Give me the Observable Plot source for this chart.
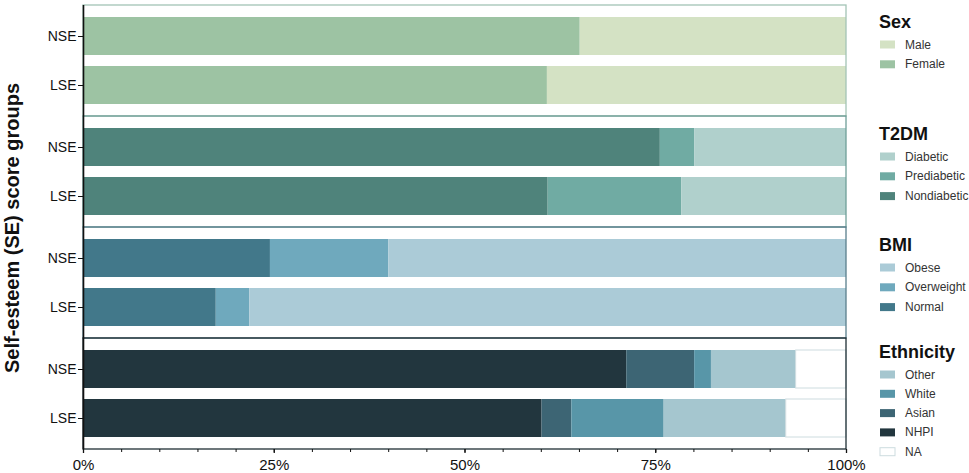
<!DOCTYPE html>
<html>
<head>
<meta charset="utf-8">
<script src="https://cdn.jsdelivr.net/npm/d3@7"></script>
<script src="https://cdn.jsdelivr.net/npm/@observablehq/plot@0.6"></script>
<style>
  html, body { margin: 0; padding: 0; background: #fff; }
  #chart { position: relative; width: 969px; height: 473px; }
</style>
</head>
<body>
<div id="chart"></div>
<script>
// ---- data ----
const groups = ["Sex", "T2DM", "BMI", "Ethnicity"];
const seGroups = ["NSE", "LSE"];

const sexCats = ["Female", "Male"];
const sexNSE = [65.1, 34.9];
const sexLSE = [60.8, 39.2];
const sexColors = ["#9dc3a3", "#d4e2c4"];

const t2dmCats = ["Nondiabetic", "Prediabetic", "Diabetic"];
const t2dmNSE = [75.6, 4.5, 19.9];
const t2dmLSE = [60.9, 17.5, 21.6];
const t2dmColors = ["#4f837b", "#70aba3", "#b0d0cc"];

const bmiCats = ["Normal", "Overweight", "Obese"];
const bmiNSE = [24.5, 15.5, 60.0];
const bmiLSE = [17.4, 4.4, 78.2];
const bmiColors = ["#42788a", "#6fa9bd", "#abcbd7"];

const ethCats = ["NHPI", "Asian", "White", "Other", "NA"];
const ethNSE = [71.2, 8.9, 2.2, 11.1, 6.6];
const ethLSE = [60.1, 3.9, 12.1, 16.0, 7.9];
const ethColors = ["#22363e", "#3d6574", "#5896a8", "#a5c6cf", "#ffffff"];

const legendOrders = [
  ["Male", "Female"],
  ["Diabetic", "Prediabetic", "Nondiabetic"],
  ["Obese", "Overweight", "Normal"],
  ["Other", "White", "Asian", "NHPI", "NA"]
];

const frameColors = ["#a3c4b6", "#6f9e98", "#5a7f8d", "#1f2f35"];
const xTicks = [0, 25, 50, 75, 100];

// ---- build table ----
const spec = [
  {group: "Sex", cats: sexCats, NSE: sexNSE, LSE: sexLSE, colors: sexColors},
  {group: "T2DM", cats: t2dmCats, NSE: t2dmNSE, LSE: t2dmLSE, colors: t2dmColors},
  {group: "BMI", cats: bmiCats, NSE: bmiNSE, LSE: bmiLSE, colors: bmiColors},
  {group: "Ethnicity", cats: ethCats, NSE: ethNSE, LSE: ethLSE, colors: ethColors}
];
const rows = [];
for (const s of spec) {
  for (const se of seGroups) {
    s.cats.forEach((c, i) => {
      rows.push({group: s.group, se, cat: c, value: s[se][i], color: s.colors[i],
                 stroke: c === "NA" ? "#cddcdf" : "none"});
    });
  }
}
const frames = groups.map((g, i) => ({group: g, border: frameColors[i]}));

const W = 969, H = 473;
const plot = Plot.plot({
  width: W,
  height: H,
  marginLeft: 83,
  marginRight: 123,
  marginTop: 3,
  marginBottom: 23,
  style: {fontFamily: "'Liberation Sans', Arial, sans-serif", color: "#111", background: "#fff"},
  x: {domain: [0, 100], label: null},
  y: {domain: seGroups, paddingInner: 0.22, paddingOuter: 0.23, label: null},
  fy: {domain: groups, padding: 0, label: null, axis: null},
  color: {type: "identity"},
  marks: [
    Plot.barX(rows, Plot.stackX({x: "value", y: "se", fy: "group", fill: "color", stroke: "stroke", strokeWidth: 1, order: null})),
    Plot.rect(frames, {x1: 0, x2: 100, fy: "group", fill: "none", stroke: "border", strokeWidth: 1.3}),
    Plot.ruleX(groups, {x: () => 0, fy: d => d, stroke: "#111", strokeWidth: 1.6}),
    Plot.axisY({tickSize: 5, tickPadding: 2, fontSize: 14, label: null, stroke: "#111"}),
    Plot.axisX({ticks: d3.range(0, 101, 5), tickSize: 3, tickFormat: () => "", label: null}),
    Plot.axisX({ticks: xTicks, tickSize: 4, tickPadding: 6, fontSize: 15, tickFormat: d => d + "%", label: null, strokeWidth: 1.3})
  ]
});
document.getElementById("chart").appendChild(plot);

// ---- legend & y title ----
const svg = d3.select(plot);
const ff = "'Liberation Sans', Arial, sans-serif";
svg.append("text")
  .attr("transform", "translate(12,228) rotate(-90)")
  .attr("text-anchor", "middle")
  .attr("dominant-baseline", "central")
  .attr("font-family", ff).attr("font-weight", "bold").attr("font-size", 20)
  .attr("fill", "#111")
  .text("Self-esteem (SE) score groups");

const legendTops = [28, 140, 251, 358];
spec.forEach((s, gi) => {
  const base = legendTops[gi];
  svg.append("text")
    .attr("x", 879).attr("y", base)
    .attr("text-anchor", "start")
    .attr("font-family", ff).attr("font-weight", "bold").attr("font-size", 18)
    .attr("fill", "#111").text(s.group);
  const cats = legendOrders[gi];
  const step = gi === 3 ? 19.3 : 19.8;
  cats.forEach((c, i) => {
    const col = s.colors[s.cats.indexOf(c)];
    const cy = base + 16.5 + i * step;
    svg.append("rect")
      .attr("x", 880).attr("y", cy - 4).attr("width", 15).attr("height", 8)
      .attr("fill", col)
      .attr("stroke", c === "NA" ? "#cddcdf" : "none");
    svg.append("text")
      .attr("x", 905).attr("y", cy)
      .attr("text-anchor", "start")
      .attr("dominant-baseline", "central")
      .attr("font-family", ff).attr("font-size", 12)
      .attr("fill", "#333").text(c);
  });
});
</script>
</body>
</html>
